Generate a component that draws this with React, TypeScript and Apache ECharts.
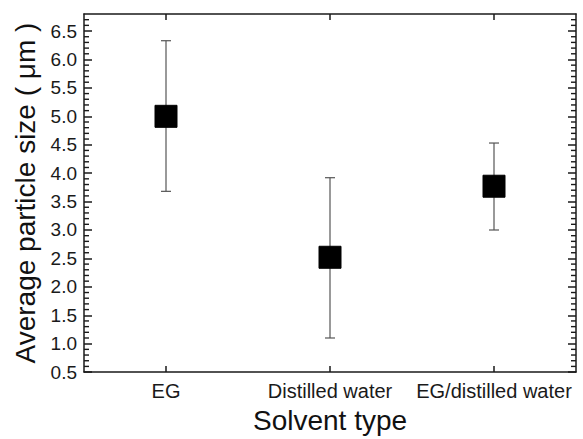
import React, { useEffect, useRef } from "react";
import * as echarts from "echarts";

const categories = ["EG", "Distilled water", "EG/distilled water"];
const means = [5.0, 2.52, 3.77];
const upperErr = [6.33, 3.92, 4.53];
const lowerErr = [3.68, 1.1, 3.0];
const yMajorLabels = [0.5, 1.0, 1.5, 2.0, 2.5, 3.0, 3.5, 4.0, 4.5, 5.0, 5.5, 6.0, 6.5];
const yMinorTicks = [
  0.6, 0.7, 0.8, 0.9, 1.1, 1.2, 1.3, 1.4, 1.6, 1.7, 1.8, 1.9, 2.1, 2.2, 2.3, 2.4,
  2.6, 2.7, 2.8, 2.9, 3.1, 3.2, 3.3, 3.4, 3.6, 3.7, 3.8, 3.9, 4.1, 4.2, 4.3, 4.4,
  4.6, 4.7, 4.8, 4.9, 5.1, 5.2, 5.3, 5.4, 5.6, 5.7, 5.8, 5.9, 6.1, 6.2, 6.3, 6.4,
  6.6, 6.7,
];

const FONT = "'Liberation Sans', Arial, sans-serif";

export default function App() {
  const ref = useRef<HTMLDivElement>(null);
  useEffect(() => {
    if (!ref.current) return;
    const chart = echarts.init(ref.current, null, { renderer: "svg" });
    const yBase = { type: "value", min: 0.5, max: 6.8, interval: 0.5 };
    const lineColor = "#1a1a1a";
    const option = {
      animation: false,
      backgroundColor: "#fff",
      grid: { left: 84, top: 14, right: 7, bottom: 64, containLabel: false },
      xAxis: [
        {
          type: "category",
          data: categories,
          position: "bottom",
          boundaryGap: true,
          axisLine: { show: true, lineStyle: { color: lineColor, width: 1.5 } },
          axisTick: { show: true, inside: true, alignWithLabel: true, length: 6, lineStyle: { color: lineColor, width: 1.5 } },
          axisLabel: { color: "#1a1a1a", fontSize: 20, fontFamily: FONT, margin: 9, interval: 0 },
          splitLine: { show: false },
          name: "Solvent type",
          nameLocation: "middle",
          nameGap: 33,
          nameTextStyle: { color: "#111", fontSize: 28, fontFamily: FONT },
        },
        {
          type: "category",
          data: categories,
          position: "top",
          boundaryGap: true,
          axisLine: { show: true, lineStyle: { color: lineColor, width: 1.5 } },
          axisTick: { show: true, inside: true, alignWithLabel: true, length: 6, lineStyle: { color: lineColor, width: 1.5 } },
          axisLabel: { show: false },
          splitLine: { show: false },
        },
      ],
      yAxis: [
        {
          ...yBase,
          position: "left",
          axisLine: { show: true, lineStyle: { color: lineColor, width: 1.5 } },
          axisTick: { show: true, inside: true, length: 8, customValues: yMajorLabels, lineStyle: { color: lineColor, width: 1.5 } },
          axisLabel: {
            color: "#1a1a1a",
            fontSize: 19,
            fontFamily: FONT,
            margin: 7,
            customValues: yMajorLabels,
            formatter: (v: number) => v.toFixed(1),
          },
          splitLine: { show: false },
          name: "Average particle size ( μm )",
          nameLocation: "middle",
          nameGap: 44,
          nameTextStyle: { color: "#111", fontSize: 28, fontFamily: FONT },
        },
        {
          ...yBase,
          position: "right",
          axisLine: { show: true, lineStyle: { color: lineColor, width: 1.5 } },
          axisTick: { show: true, inside: true, length: 8, customValues: yMajorLabels, lineStyle: { color: lineColor, width: 1.5 } },
          axisLabel: { show: false },
          splitLine: { show: false },
        },
      ],
      series: [
        {
          // minor ticks on both y axes, placed through the y scale
          type: "custom",
          xAxisIndex: 0,
          yAxisIndex: 0,
          z: 1,
          clip: false,
          silent: true,
          data: yMinorTicks.map((v) => [0, v]),
          renderItem: (params: any, api: any) => {
            const p = api.coord([0, api.value(1)]);
            const cs = params.coordSys;
            const len = 5;
            const style = { stroke: lineColor, lineWidth: 1.4 };
            return {
              type: "group",
              children: [
                { type: "line", shape: { x1: cs.x, y1: p[1], x2: cs.x + len, y2: p[1] }, style },
                { type: "line", shape: { x1: cs.x + cs.width - len, y1: p[1], x2: cs.x + cs.width, y2: p[1] }, style },
              ],
            };
          },
        },
        {
          type: "custom",
          xAxisIndex: 0,
          yAxisIndex: 0,
          z: 2,
          silent: true,
          data: categories.map((_, i) => [i, lowerErr[i], upperErr[i]]),
          renderItem: (params: any, api: any) => {
            const x = api.value(0);
            const lo = api.coord([x, api.value(1)]);
            const hi = api.coord([x, api.value(2)]);
            const half = 5;
            const style = { stroke: "#555", lineWidth: 1.2 };
            return {
              type: "group",
              children: [
                { type: "line", shape: { x1: lo[0], y1: lo[1], x2: hi[0], y2: hi[1] }, style },
                { type: "line", shape: { x1: hi[0] - half, y1: hi[1], x2: hi[0] + half, y2: hi[1] }, style },
                { type: "line", shape: { x1: lo[0] - half, y1: lo[1], x2: lo[0] + half, y2: lo[1] }, style },
              ],
            };
          },
        },
        {
          type: "scatter",
          xAxisIndex: 0,
          yAxisIndex: 0,
          z: 5,
          symbol: "rect",
          symbolSize: 22,
          itemStyle: { color: "#000", borderColor: "#000", borderWidth: 1, opacity: 1 },
          emphasis: { disabled: true },
          data: categories.map((c, i) => [i, means[i]]),
        },
      ],
    };
    chart.setOption(option as any);
    return () => chart.dispose();
  }, []);
  return (
    <div
      ref={ref}
      style={{ position: "fixed", left: 0, top: 0, width: 583, height: 439, background: "#fff" }}
    />
  );
}
